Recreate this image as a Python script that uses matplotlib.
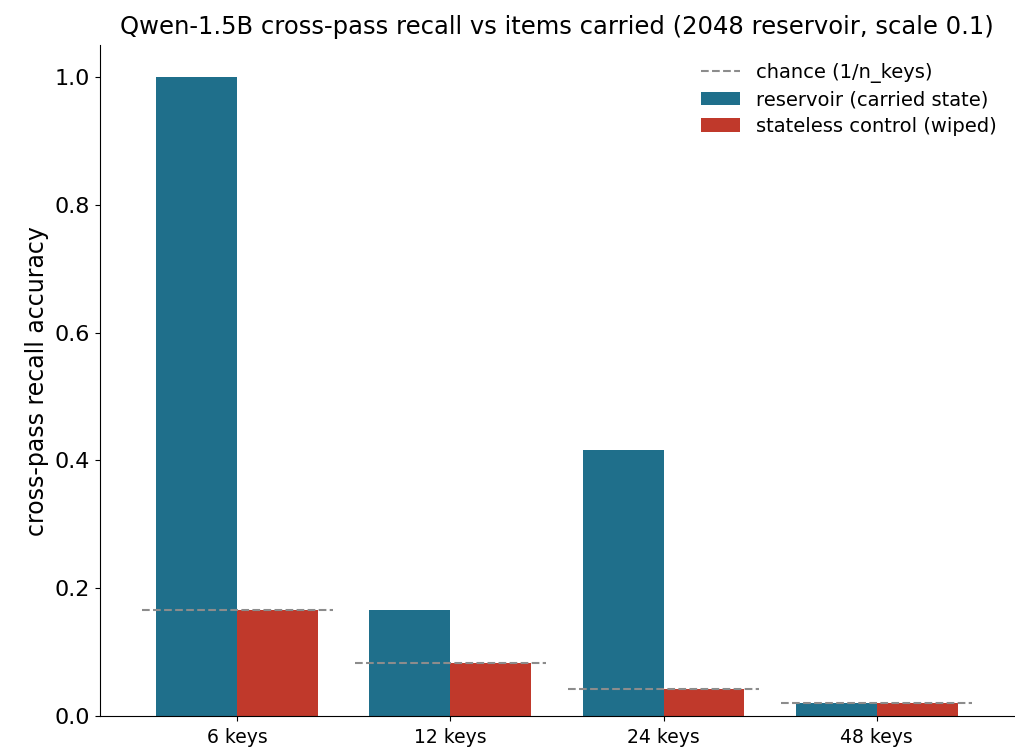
import matplotlib
matplotlib.use("Agg")
import matplotlib.pyplot as plt
import numpy as np

# -- Data -----------------------------------------------------------------
n_keys = [6, 12, 24, 48]
labels = [f"{n} keys" for n in n_keys]
reservoir = [1.0, 0.1667, 0.4167, 0.0208]
stateless = [0.1667, 0.0833, 0.0417, 0.0208]
chance = [1.0 / n for n in n_keys]

C_RES = "#1f6f8b"
C_STATELESS = "#c0392b"
C_CHANCE = "#8c8c8c"

fig = plt.figure(figsize=(10.15, 7.54), dpi=100)
ax = fig.add_axes([0.0985, 0.0504, 0.9005, 0.8896])

x = np.arange(len(n_keys))
w = 0.38
h_res = ax.bar(x - w / 2, reservoir, w, color=C_RES, label="reservoir (carried state)")
h_st = ax.bar(x + w / 2, stateless, w, color=C_STATELESS, label="stateless control (wiped)")
h_ch = ax.hlines(chance, x - 0.45, x + 0.45, colors=C_CHANCE, linestyles="--",
                 linewidth=1.5, label="chance (1/n_keys)")

ax.set_xticks(x)
ax.set_xticklabels(labels, fontsize=13.5)
ax.tick_params(axis="x", pad=5)
ax.tick_params(axis="y", labelsize=16)
ax.set_ylabel("cross-pass recall accuracy", fontsize=17)
ax.set_title("Qwen-1.5B cross-pass recall vs items carried (2048 reservoir, scale 0.1)",
             fontsize=17.5, pad=8)
for s in ["top", "right"]:
    ax.spines[s].set_visible(False)

ax.legend([h_ch, h_res, h_st],
          ["chance (1/n_keys)", "reservoir (carried state)", "stateless control (wiped)"],
          frameon=False, fontsize=14, loc="upper right", labelspacing=0.38)

fig.savefig("out.png", dpi=100)
